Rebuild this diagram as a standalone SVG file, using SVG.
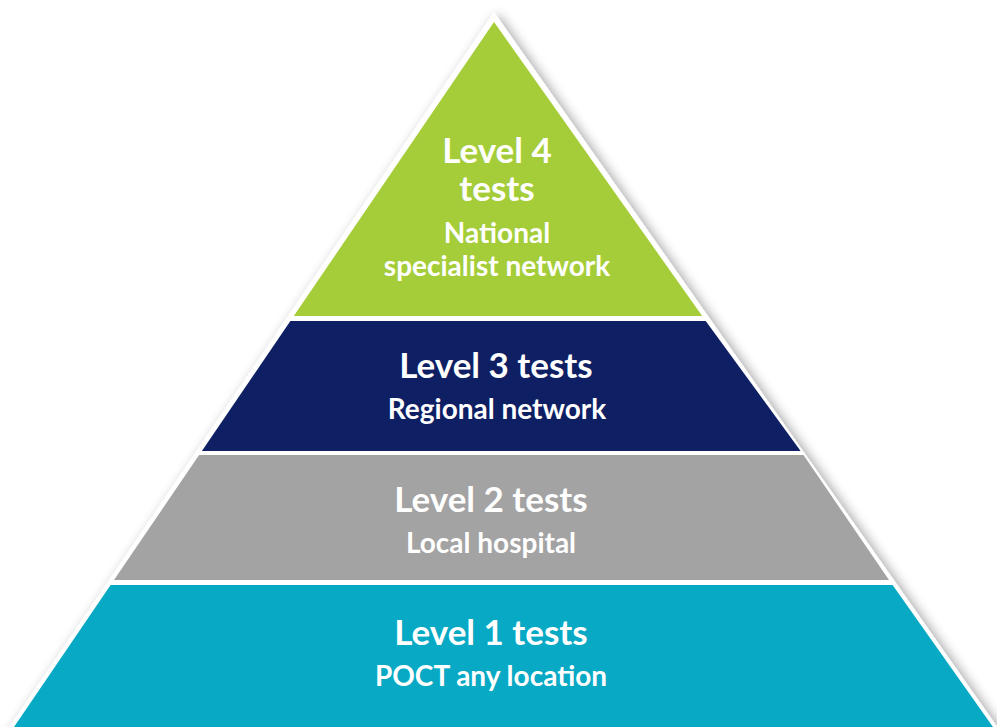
<svg xmlns="http://www.w3.org/2000/svg" width="997" height="727" viewBox="0 0 997 727">
  <defs>
    <filter id="shadow" x="-10%" y="-10%" width="120%" height="120%">
      <feGaussianBlur in="SourceAlpha" stdDeviation="6"/>
      <feOffset dx="4" dy="2" result="b"/>
      <feComponentTransfer><feFuncA type="linear" slope="0.35"/></feComponentTransfer>
      <feMerge><feMergeNode/><feMergeNode in="SourceGraphic"/></feMerge>
    </filter>
  </defs>
  <style>
    .t { font-family: Lato, "Open Sans", sans-serif; font-weight: bold; fill: #ffffff; text-anchor: middle; }
    .h { font-size: 35px; }
    .s { font-size: 28px; }
  </style>
  <rect width="997" height="727" fill="#ffffff"/>
  <g id="outline" filter="url(#shadow)">
    <polygon points="494,12 1003,735 4,735" fill="#ffffff"/>
  </g>
  <g id="level4">
    <polygon points="494,22 702.2,316 293.8,316" fill="#A5CD39"/>
    <text class="t h" x="497" y="163">Level 4</text>
    <text class="t h" x="497" y="201">tests</text>
    <text class="t s" x="497" y="243">National</text>
    <text class="t s" x="497" y="276">specialist network</text>
  </g>
  <g id="level3">
    <polygon points="290.4,321 705.7,321 800.6,451 201.9,451" fill="#0E2063"/>
    <text class="t h" x="496" y="378">Level 3 tests</text>
    <text class="t s" x="497" y="419">Regional network</text>
  </g>
  <g id="level2">
    <polygon points="199.1,455 803.5,455 889,580 114,580" fill="#A3A3A3"/>
    <text class="t h" x="491" y="512">Level 2 tests</text>
    <text class="t s" x="491" y="553">Local hospital</text>
  </g>
  <g id="level1">
    <polygon points="110.6,585 892.6,585 993,727 14,727" fill="#07A9C4"/>
    <text class="t h" x="491" y="645">Level 1 tests</text>
    <text class="t s" x="491" y="686">POCT any location</text>
  </g>
  <g id="connectors"/>
</svg>
